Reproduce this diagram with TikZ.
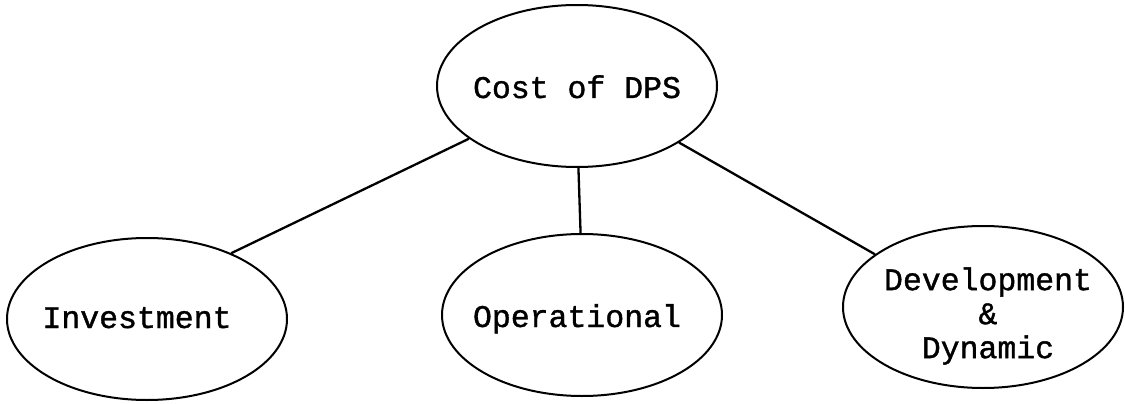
\documentclass[tikz,border=0pt]{standalone}
\usepackage{fontspec}
\setmonofont[FakeBold=1.2]{Liberation Mono}
\usetikzlibrary{shapes.geometric}
\begin{document}
\begin{tikzpicture}[x=1pt,y=-1pt,
  oval/.style={ellipse, draw, line width=2pt, minimum width=280pt, minimum height=162pt, inner sep=0pt},
  lbl/.style={font=\ttfamily\fontsize{31.5}{34}\selectfont, align=center, inner sep=0pt},
  link/.style={line width=2.3pt}]
\useasboundingbox (0,0) rectangle (1125,404);
\node[oval] (cost) at (577,86) {};
\node[oval] (inv)  at (147,319) {};
\node[oval] (oper) at (582,315) {};
\node[oval] (dev)  at (983,307) {};
\node[lbl, anchor=base] (costt) at (577,98) {Cost of DPS};
\node[lbl, anchor=base] (invt)  at (137,328) {Investment};
\node[lbl, anchor=base] (opert) at (577,327) {Operational};
\node[lbl] (devt) at (988,316) {Development\\\&\\Dynamic};
\draw[link] (cost.206.8) -- (inv.38.8);
\draw[link] (cost.-89) -- (oper.91);
\draw[link] (cost.-29.7) -- (dev.154.5);
\end{tikzpicture}
\end{document}
